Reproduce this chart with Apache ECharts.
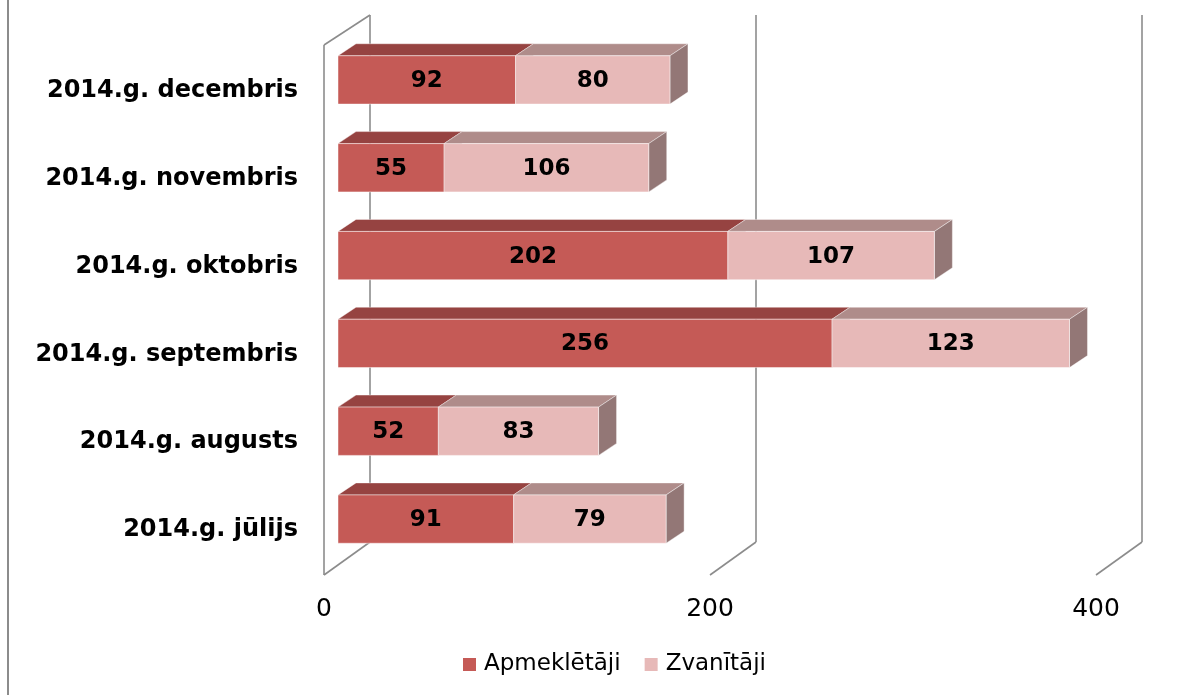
<!DOCTYPE html>
<html>
<head>
<meta charset="utf-8">
<script src="https://cdn.jsdelivr.net/npm/echarts@6/dist/echarts.min.js"></script>
<style>
html,body{margin:0;padding:0;background:#fff;}
#chart{width:1197px;height:695px;}
</style>
</head>
<body>
<div id="chart"></div>
<script>
const categories = ['2014.g. jūlijs','2014.g. augusts','2014.g. septembris','2014.g. oktobris','2014.g. novembris','2014.g. decembris'];
const apmekletaji = [91, 52, 256, 202, 55, 92];
const zvanitaji = [79, 83, 123, 107, 106, 80];
const xTicks = [0, 200, 400];
const seriesNames = ['Apmeklētāji', 'Zvanītāji'];

const FONT = '"DejaVu Sans", sans-serif';
// 3D geometry offsets (pixels)
const FX = -32, FY = 21;     // bar front face relative to back wall
const DX = 18, DY = -12;     // bar depth
const WX = -46, WY = 31;     // front edge of floor / side wall relative to back wall

const colors = [
  {front: '#C55A56', top: '#964341', side: '#7E3836'},
  {front: '#E7B9B8', top: '#AF8C8A', side: '#937776'}
];

function barRender(idx) {
  return function (params, api) {
    const ci = api.value(2);
    const s = api.coord([api.value(0), ci]);
    const e = api.coord([api.value(1), ci]);
    const band = api.size([0, 1])[1];
    const h = band * 0.55;
    const x0 = s[0] + FX, x1 = e[0] + FX;
    const y0 = s[1] + FY - h / 2, y1 = y0 + h;
    const c = colors[idx];
    const children = [
      {type: 'polygon', shape: {points: [[x0, y0], [x1, y0], [x1 + DX, y0 + DY], [x0 + DX, y0 + DY]]},
       style: {fill: c.top, stroke: 'rgba(255,255,255,0.5)', lineWidth: 0.8}},
      {type: 'polygon', shape: {points: [[x1, y0], [x1 + DX, y0 + DY], [x1 + DX, y1 + DY], [x1, y1]]},
       style: {fill: c.side, stroke: 'rgba(255,255,255,0.5)', lineWidth: 0.8}},
      {type: 'rect', shape: {x: x0, y: y0, width: x1 - x0, height: h},
       style: {fill: c.front, stroke: 'rgba(255,255,255,0.6)', lineWidth: 0.8}},
      {type: 'text', x: (x0 + x1) / 2, y: (y0 + y1) / 2 + 1,
       style: {text: String(api.value(1) - api.value(0)), fill: '#000', font: 'bold 23px ' + FONT,
               textAlign: 'center', textVerticalAlign: 'middle'}}
    ];
    return {type: 'group', children: children};
  };
}

function frameRender(params, api) {
  const cs = params.coordSys;
  const v = api.value(0);
  const x = api.coord([v, 0])[0];
  const yTop = cs.y, yBot = cs.y + cs.height;
  const st = {stroke: '#8C8C8C', lineWidth: 1.6, fill: 'none'};
  const children = [
    {type: 'line', shape: {x1: x, y1: yBot, x2: x + WX, y2: yBot + WY + 2}, style: st}
  ];
  if (v === xTicks[0]) {
    children.push({type: 'line', shape: {x1: x, y1: yTop, x2: x + WX, y2: yTop + WY - 1}, style: st});
    children.push({type: 'line', shape: {x1: x + WX, y1: yTop + WY - 1, x2: x + WX, y2: yBot + WY + 2}, style: st});
  }
  return {type: 'group', children: children};
}

const chart = echarts.init(document.getElementById('chart'), null, {renderer: 'canvas'});
chart.setOption({
  animation: false,
  backgroundColor: '#fff',
  grid: {left: 370, right: 55, top: 15, bottom: 153},
  graphic: [
    {type: 'line', shape: {x1: 8, y1: 0, x2: 8, y2: 695}, style: {stroke: '#8C8C8C', lineWidth: 2}}
  ],
  legend: {
    data: seriesNames,
    bottom: 14,
    left: 458,
    itemWidth: 13, itemHeight: 13, itemGap: 24,
    icon: 'rect',
    textStyle: {fontFamily: FONT, fontSize: 23, color: '#000', padding: [0, 0, 0, 3]}
  },
  xAxis: {
    type: 'value', min: 0, max: 400, interval: 200,
    axisLine: {show: false}, axisTick: {show: false},
    splitLine: {show: true, lineStyle: {color: '#8C8C8C', width: 1.6}},
    axisLabel: {fontFamily: FONT, fontSize: 25, color: '#000', margin: 55, padding: [0, 92, 0, 0]}
  },
  yAxis: {
    type: 'category', data: categories,
    axisLine: {show: false}, axisTick: {show: false}, splitLine: {show: false},
    axisLabel: {
      fontFamily: FONT, fontSize: 24, fontWeight: 'bold', color: '#000', margin: 72,
      formatter: function (v) { return '{a|' + v + '}'; },
      rich: {a: {fontFamily: FONT, fontSize: 24, fontWeight: 'bold', color: '#000', padding: [64, 0, 0, 0]}}
    }
  },
  series: [
    {type: 'custom', name: 'frame', renderItem: frameRender, silent: true,
     encode: {x: 0}, data: xTicks.map(v => [v]), z: 1},
    {type: 'custom', name: seriesNames[0], renderItem: barRender(0), itemStyle: {color: colors[0].front},
     encode: {x: [0, 1], y: 2}, data: apmekletaji.map((v, i) => [0, v, i]), z: 2},
    {type: 'custom', name: seriesNames[1], renderItem: barRender(1), itemStyle: {color: colors[1].front},
     encode: {x: [0, 1], y: 2}, data: zvanitaji.map((v, i) => [apmekletaji[i], apmekletaji[i] + v, i]), z: 3}
  ]
});
</script>
</body>
</html>
